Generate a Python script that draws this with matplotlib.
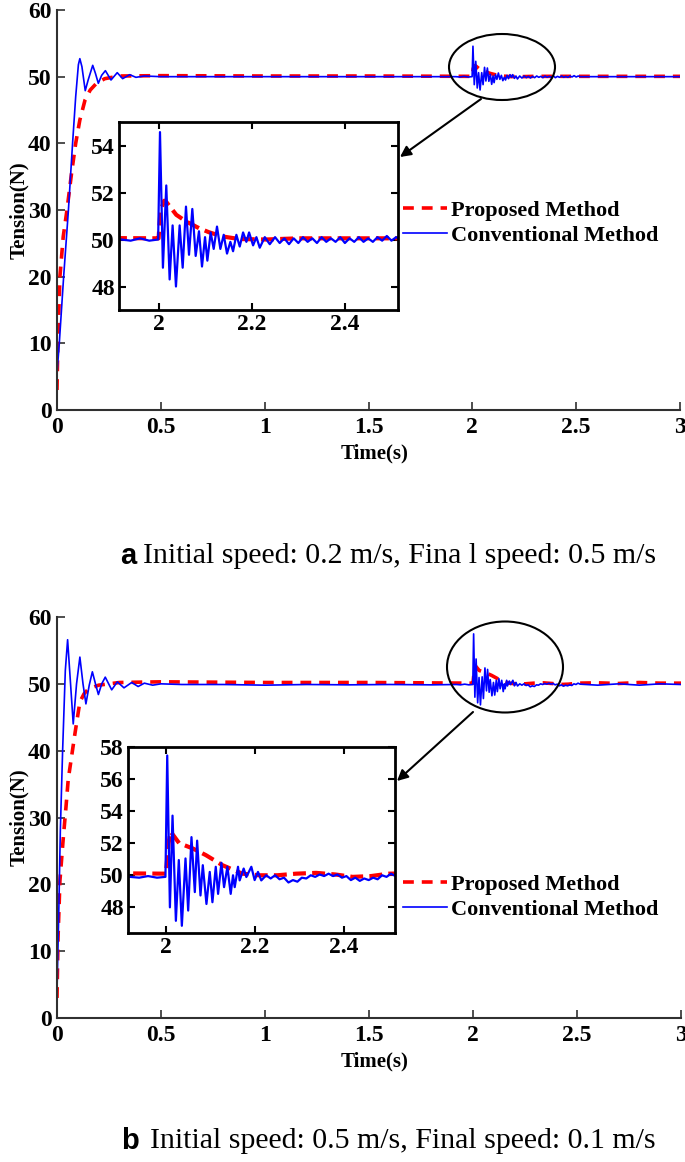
import matplotlib
matplotlib.use('Agg')
import matplotlib.pyplot as plt
from matplotlib.patches import Ellipse, FancyArrowPatch

W, H = 685, 1162

# ---- panel a : initial 0.2 m/s, final 0.5 m/s ----
ta_prop = [0, 0.004, 0.014, 0.03, 0.048, 0.07, 0.09, 0.11, 0.135, 0.16, 0.19, 0.23, 0.3, 0.5,
           1.0, 1.5, 1.999, 2.0, 2.004, 2.012, 2.0165, 2.038, 2.059, 2.087, 2.108, 2.137, 2.173,
           2.23, 2.3, 2.4, 2.52, 2.7, 3.0]
fa_prop = [3, 10, 20, 26, 30, 35.5, 40, 43.5, 46.5, 48, 49, 49.7, 50.1, 50.15,
           50.1, 50.1, 50.05, 50.05, 51.2, 51.65, 51.6, 51.05, 50.77, 50.48, 50.31, 50.13, 50.02,
           50.0, 50.05, 50.05, 50.05, 50.05, 50.05]

ta_conv = [0, 0.011, 0.032, 0.055, 0.075, 0.09, 0.103, 0.11, 0.12, 0.136, 0.15, 0.172, 0.185,
           0.199, 0.215, 0.233, 0.26, 0.29, 0.316, 0.35, 0.38, 0.42, 0.5, 1.0, 1.5,
           1.92, 1.94, 1.96, 1.98, 1.999,
           2.003, 2.0093, 2.0165, 2.0237, 2.0301, 2.0373, 2.0452, 2.0517, 2.0588, 2.0653, 2.0724,
           2.0796, 2.0867, 2.0932, 2.0997, 2.1047, 2.1118, 2.1183, 2.1254, 2.1326, 2.1398, 2.1469,
           2.1541, 2.1599, 2.167, 2.1742, 2.1814, 2.1885, 2.1943, 2.2029, 2.21, 2.2172, 2.228,
           2.2387, 2.25, 2.26, 2.27, 2.28, 2.29, 2.30, 2.31, 2.32, 2.33, 2.34, 2.35, 2.36, 2.37,
           2.38, 2.39, 2.40, 2.41, 2.42, 2.43, 2.44, 2.45, 2.46, 2.47, 2.48, 2.49, 2.50, 2.51,
           2.52, 2.7, 3.0]
fa_conv = [5.5, 10, 20, 30, 40, 47, 51.8, 52.7, 51.5, 47.9, 49.5, 51.7, 50.5,
           49.0, 50.2, 50.9, 49.5, 50.6, 49.7, 50.3, 49.9, 50.1, 50.0, 50.0, 50.0,
           50.0, 49.95, 50.05, 49.95, 50.0,
           54.57, 48.8, 52.3, 48.3, 50.6, 48.0, 50.6, 48.8, 51.4, 49.35, 51.3,
           49.3, 50.35, 48.85, 50.1, 49.1, 50.3, 49.6, 50.55, 49.6, 50.2, 49.4,
           49.9, 49.5, 50.2, 49.7, 50.3, 49.9, 50.3, 49.75, 50.1, 49.65, 50.1,
           49.8, 50.1, 49.85, 50.05, 49.8, 50.05, 49.85, 50.1, 49.9, 50.05, 49.85, 50.1, 49.9, 50.05,
           49.9, 50.1, 49.85, 50.05, 49.9, 50.1, 49.9, 50.05, 49.9, 50.1, 49.95, 50.15, 49.95, 50.1,
           50.0, 50.0, 50.0]

# ---- panel b : initial 0.5 m/s, final 0.1 m/s ----
tb_prop = [0, 0.005, 0.014, 0.029, 0.043, 0.054, 0.07, 0.087, 0.11, 0.13, 0.15, 0.2, 0.3, 0.5,
           1.0, 1.5, 1.999, 2.0, 2.006, 2.0104, 2.0298, 2.0596, 2.0895, 2.1268, 2.1715, 2.209,
           2.25, 2.292, 2.337, 2.38, 2.419, 2.46, 2.5, 2.6, 2.7, 2.8, 2.9, 3.0]
fb_prop = [3, 12, 20.5, 26.5, 31.5, 35.7, 39.1, 42.7, 47.3, 48.5, 49.2, 49.8, 50.2, 50.3,
           50.2, 50.2, 50.1, 50.1, 52.0, 52.73, 52.0, 51.68, 51.26, 50.63, 50.1, 50.0,
           50.0, 50.1, 50.15, 50.05, 49.9, 49.95, 50.1, 50.15, 50.05, 50.2, 50.1, 50.1]

tb_conv = [0, 0.008, 0.016, 0.027, 0.04, 0.051, 0.063, 0.078, 0.094, 0.11, 0.125, 0.139, 0.155,
           0.17, 0.185, 0.199, 0.215, 0.232, 0.263, 0.29, 0.322, 0.359, 0.39, 0.42, 0.46, 0.5,
           0.6, 0.8, 1.0, 1.2, 1.4, 1.6, 1.8,
           1.92, 1.94, 1.96, 1.98, 1.999,
           2.003, 2.009, 2.0149, 2.0224, 2.029, 2.0358, 2.044, 2.05, 2.0574, 2.0649, 2.0701,
           2.0776, 2.0828, 2.091, 2.0984, 2.1044, 2.1119, 2.1171, 2.1245, 2.1305, 2.138, 2.1454,
           2.1506, 2.1544, 2.1618, 2.1655, 2.1745, 2.1805, 2.1917, 2.1991, 2.2066, 2.214,
           2.225, 2.235, 2.245, 2.255, 2.265, 2.275, 2.285, 2.295, 2.305, 2.315, 2.325, 2.335,
           2.345, 2.355, 2.365, 2.375, 2.385, 2.395, 2.405, 2.415, 2.425, 2.435, 2.445, 2.455,
           2.465, 2.475, 2.485, 2.495, 2.505, 2.515, 2.6, 2.7, 2.8, 2.9, 3.0]
fb_conv = [4, 15, 28, 40, 52, 56.6, 51, 44.0, 50, 54.0, 50, 47.0, 49.8,
           51.8, 50, 48.4, 50, 51.0, 49.1, 50.3, 49.4, 50.2, 49.6, 50.1, 49.8, 50.0,
           49.9, 49.9, 49.8, 49.9, 49.85, 49.9, 49.85,
           49.9, 49.85, 49.95, 49.85, 49.9,
           57.47, 48.0, 53.72, 47.16, 50.95, 46.85, 51.05, 47.8, 52.38, 48.95, 52.16,
           48.74, 50.63, 48.21, 50.21, 48.32, 50.53, 48.84, 50.78, 49.26, 50.53, 48.84,
           50.0, 49.26, 50.53, 49.68, 50.42, 49.89, 50.53, 49.7, 50.21, 49.68,
           50.0, 49.8, 50.0, 49.75, 49.85, 49.55, 49.7, 49.6, 49.85, 49.8, 50.0, 49.9,
           50.05, 49.95, 50.1, 49.95, 50.05, 49.85, 49.95, 49.7, 49.85, 49.65, 49.8, 49.7,
           49.85, 49.75, 50.0, 49.9, 50.1, 49.95, 49.8, 50.0, 49.8, 50.0, 49.9]

main_xticks = [0, 0.5, 1, 1.5, 2, 2.5, 3]
main_xlabels = ['0', '0.5', '1', '1.5', '2', '2.5', '3']
main_yticks = [0, 10, 20, 30, 40, 50, 60]
inset_xticks = [2, 2.2, 2.4]
inset_yticks_a = [48, 50, 52, 54]
inset_yticks_b = [48, 50, 52, 54, 56, 58]

cap_a = 'Initial speed: 0.2 m/s, Fina l speed: 0.5 m/s'
cap_b = 'Initial speed: 0.5 m/s, Final speed: 0.1 m/s'

plt.rcParams['font.family'] = ['Liberation Serif', 'DejaVu Serif']
plt.rcParams['font.weight'] = 'bold'
plt.rcParams['axes.labelweight'] = 'bold'


def box(l, t, r, b):
    return [l / W, 1 - b / H, (r - l) / W, (b - t) / H]


def fp(x, y):
    return (x / W, 1 - y / H)


fig = plt.figure(figsize=(W / 100, H / 100), dpi=100)


def panel(mbox, ibox, iylim, iyticks, tp, fpv, tc, fc, ell, arr, leg):
    ax = fig.add_axes(box(*mbox))
    lp, = ax.plot(tp, fpv, color='#ff0000', lw=2.6, ls=(0, (3.0, 2.2)), label='Proposed Method')
    lc, = ax.plot(tc, fc, color='#0000ff', lw=1.2, label='Conventional Method')
    ax.set_xlim(0, 3)
    ax.set_ylim(0, 60)
    ax.set_xticks(main_xticks)
    ax.set_xticklabels(main_xlabels)
    ax.set_yticks(main_yticks)
    for s in ['top', 'right']:
        ax.spines[s].set_visible(False)
    for s in ['left', 'bottom']:
        ax.spines[s].set_color('#303030')
        ax.spines[s].set_linewidth(1.5)
    ax.tick_params(direction='in', length=6, width=1.2, labelsize=17, colors='#303030',
                   labelcolor='black')
    ax.tick_params(axis='x', pad=5)
    ax.tick_params(axis='y', pad=4)
    ax.set_xlabel('Time(s)', fontsize=15, weight='bold')
    ax.set_ylabel('Tension(N)', fontsize=15, weight='bold')
    ax.xaxis.label.set_va('center')
    ax.yaxis.label.set_va('center')
    ax.xaxis.set_label_coords((375 - mbox[0]) / (mbox[2] - mbox[0]),
                              -(43) / (mbox[3] - mbox[1]))
    ax.yaxis.set_label_coords(-(38) / (mbox[2] - mbox[0]), 0.5)

    ins = fig.add_axes(box(*ibox))
    ins.plot(tp, fpv, color='#ff0000', lw=3, ls=(0, (3.1, 1.5)))
    ins.plot(tc, fc, color='#0000ff', lw=1.6)
    ins.set_xlim(1.915, 2.514)
    ins.set_ylim(*iylim)
    ins.set_xticks(inset_xticks)
    ins.set_xticklabels(['2', '2.2', '2.4'])
    ins.set_yticks(iyticks)
    for s in ins.spines.values():
        s.set_linewidth(2)
        s.set_color('black')
    ins.tick_params(direction='in', length=5, width=1.5, labelsize=17, top=True, right=True, pad=3)

    fig.add_artist(Ellipse(fp(*ell[:2]), ell[2] / W, ell[3] / H, transform=fig.transFigure,
                           fill=False, lw=1.5, ec='black'))
    fig.add_artist(FancyArrowPatch(fp(*arr[:2]), fp(*arr[2:]), transform=fig.transFigure,
                                   arrowstyle='-|>', mutation_scale=16, lw=1.5, color='black',
                                   shrinkA=0, shrinkB=0))
    fig.legend(handles=[lp, lc], loc='upper left', bbox_to_anchor=fp(*leg),
               bbox_transform=fig.transFigure, frameon=False, fontsize=16,
               handlelength=2.0, handletextpad=0.18, labelspacing=0.2,
               borderpad=0, borderaxespad=0)


panel((57, 10, 680, 410), (119, 122, 398, 310), (47, 55), inset_yticks_a,
      ta_prop, fa_prop, ta_conv, fa_conv,
      (502, 67, 106, 66), (481, 99, 400, 157), (403, 200))
panel((57, 617, 681, 1018), (128, 747, 395, 933), (46.4, 58), inset_yticks_b,
      tb_prop, fb_prop, tb_conv, fb_conv,
      (505, 667, 116, 91), (473, 712, 397, 781), (403, 874))

fig.text(*fp(120, 556), 'a', fontsize=21, family='Liberation Sans', weight='bold',
         ha='left', va='center')
fig.text(*fp(143, 556), cap_a, fontsize=21.5, weight='normal', ha='left', va='center')
fig.text(*fp(121, 1141), 'b', fontsize=21, family='Liberation Sans', weight='bold',
         ha='left', va='center')
fig.text(*fp(150, 1141), cap_b, fontsize=21.5, weight='normal', ha='left', va='center')

fig.savefig('out.png', dpi=100)
